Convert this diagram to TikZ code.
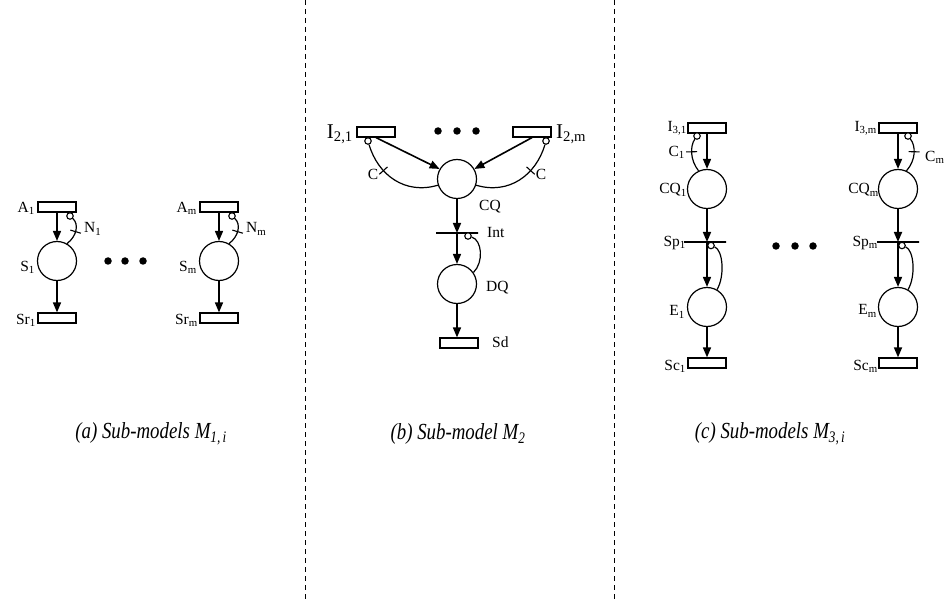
\documentclass[tikz,border=0pt]{standalone}
\usepackage{fontspec}
\setmainfont{Liberation Serif}
\usetikzlibrary{arrows.meta}
\begin{document}
\begin{tikzpicture}[x=1pt,y=-1pt,
 every node/.style={font=\fontsize{15.5}{17}\selectfont},
 place/.style={circle,draw,line width=1.2pt,minimum size=39pt,inner sep=0pt},
 trans/.style={rectangle,draw,line width=1.2pt,minimum width=38pt,minimum height=10pt,inner sep=0pt},
 tbar/.style={rectangle,draw,line width=1.1pt,minimum width=42pt,minimum height=0pt,inner sep=0pt},
 inh/.style={circle,draw,line width=1.1pt,fill=white,minimum size=6.5pt,inner sep=0pt},
 arcarrow/.style={line width=1.6pt,-{Triangle[length=10pt,width=8pt]}},
 inharc/.style={line width=1.2pt},
 tickmark/.style={sloped,draw,line width=1.1pt,minimum width=0pt,minimum height=11pt,inner sep=0pt},
 lbl/.style={inner sep=0pt},
 bigtxt/.style={font=\fontsize{21}{24}\selectfont},
 blackdot/.style={circle,fill,minimum size=7.5pt,inner sep=0pt},
 sepline/.style={line width=0.9pt,dash pattern=on 5pt off 4pt},
 captxt/.style={font=\fontsize{23}{26}\selectfont\itshape},
]
\useasboundingbox (0,0) rectangle (949,601);
% separators
\coordinate (s1t) at (305,0); \coordinate (s1b) at (305,601);
\coordinate (s2t) at (614,0); \coordinate (s2b) at (614,601);
\draw[sepline] (s1t) -- (s1b);
\draw[sepline] (s2t) -- (s2b);

% ---------------- panel (a) ----------------
\node[trans] (A1) at (57,207) {};
\node[place] (S1) at (57,261) {};
\node[trans] (Sr1) at (57,318) {};
\node[inh] (A1o) at (70,216) {};
\draw[arcarrow] (A1) -- (S1);
\draw[arcarrow] (S1) -- (Sr1);
\draw[inharc] (A1o) .. controls (79,224) and (77,236) .. node[tickmark,pos=.55]{} (S1.60);
\node[lbl,anchor=east] (lA1) at (35,208) {A\textsubscript{1}};
\node[lbl,anchor=east] (lS1) at (35,267) {S\textsubscript{1}};
\node[lbl,anchor=east] (lSr1) at (36,320) {Sr\textsubscript{1}};
\node[lbl,anchor=west] (lN1) at (84,229) {N\textsubscript{1}};

\node[blackdot] (da1) at (108,261) {};
\node[blackdot] (da2) at (125,261) {};
\node[blackdot] (da3) at (143,261) {};

\node[trans] (Am) at (219,207) {};
\node[place] (Sm) at (219,261) {};
\node[trans] (Srm) at (219,318) {};
\node[inh] (Amo) at (232,216) {};
\draw[arcarrow] (Am) -- (Sm);
\draw[arcarrow] (Sm) -- (Srm);
\draw[inharc] (Amo) .. controls (241,224) and (239,236) .. node[tickmark,pos=.55]{} (Sm.60);
\node[lbl,anchor=east] (lAm) at (197,208) {A\textsubscript{m}};
\node[lbl,anchor=east] (lSm) at (197,267) {S\textsubscript{m}};
\node[lbl,anchor=east] (lSrm) at (198,320) {Sr\textsubscript{m}};
\node[lbl,anchor=west] (lNm) at (246,229) {N\textsubscript{m}};

\node[captxt] (capa) at (151,434) {\scalebox{0.82}[1]{(a) Sub-models M\textsubscript{1,\,i}}};

% ---------------- panel (b) ----------------
\node[trans] (I21) at (376,132) {};
\node[trans] (I2m) at (532,132) {};
\node[blackdot] (db1) at (438,131) {};
\node[blackdot] (db2) at (457,131) {};
\node[blackdot] (db3) at (476,131) {};
\node[place] (CQ) at (457,179) {};
\node[inh] (I21o) at (368,141) {};
\node[inh] (I2mo) at (546,141) {};
\draw[arcarrow] (I21.south) -- (CQ.150);
\draw[arcarrow] (I2m.south) -- (CQ.30);
\draw[inharc] (I21o) .. controls (378,175) and (405,195) .. node[tickmark,pos=.33]{} (CQ.198);
\draw[inharc] (I2mo) .. controls (536,175) and (509,195) .. node[tickmark,pos=.33]{} (CQ.-18);
\node[lbl,bigtxt,anchor=east] (lI21) at (353,134) {I\textsubscript{2,1}};
\node[lbl,bigtxt,anchor=west] (lI2m) at (556,134) {I\textsubscript{2,m}};
\node[lbl] (lC1b) at (373,174) {C};
\node[lbl] (lC2b) at (541,174) {C};
\node[lbl] (lCQ) at (490,207) {CQ};

\node[tbar] (Int) at (457,233) {};
\node[inh] (Into) at (468,236) {};
\node[place] (DQ) at (457,284) {};
\node[trans] (Sd) at (459,343) {};
\draw[arcarrow] (CQ) -- (Int.center);
\draw[arcarrow] (Int.center) -- (DQ);
\draw[arcarrow] (DQ.south) -- (DQ.south |- Sd.north);
\draw[inharc] (Into) .. controls (482,240) and (484,262) .. (DQ.35);
\node[lbl,anchor=west] (lInt) at (487,233) {Int};
\node[lbl,anchor=west] (lDQ) at (486,288) {DQ};
\node[lbl,anchor=west] (lSd) at (492,342) {Sd};

\node[captxt] (capb) at (458,434) {\scalebox{0.82}[1]{(b) Sub-model M\textsubscript{2}}};

% ---------------- panel (c) ----------------
% column 1
\node[trans] (I31) at (707,128) {};
\node[place] (CQ1) at (707,189) {};
\node[tbar] (Sp1) at (705,242) {};
\node[place] (E1) at (707,307) {};
\node[trans] (Sc1) at (707,363) {};
\node[inh] (I31o) at (697,136) {};
\node[inh] (Sp1o) at (711,245.5) {};
\coordinate (Sp1c) at (707,242);
\draw[arcarrow] (I31) -- (CQ1);
\draw[arcarrow] (CQ1) -- (Sp1c);
\draw[arcarrow] (Sp1c) -- (E1);
\draw[arcarrow] (E1) -- (Sc1);
\draw[inharc] (I31o) .. controls (690,146) and (690,160) .. node[tickmark,pos=.45]{} (CQ1.115);
\draw[inharc] (Sp1o) .. controls (723,250) and (725,276) .. (E1.60);
\node[lbl,anchor=east] (lI31) at (687,128) {I\textsubscript{3,1}};
\node[lbl,anchor=east] (lC1) at (685,152) {C\textsubscript{1}};
\node[lbl,anchor=east] (lCQ1) at (687,190) {CQ\textsubscript{1}};
\node[lbl,anchor=east] (lSp1) at (686,243) {Sp\textsubscript{1}};
\node[lbl,anchor=east] (lE1) at (685,312) {E\textsubscript{1}};
\node[lbl,anchor=east] (lSc1) at (686,366) {Sc\textsubscript{1}};

\node[blackdot] (dc1) at (776,246) {};
\node[blackdot] (dc2) at (795,246) {};
\node[blackdot] (dc3) at (813,246) {};

% column m
\node[trans] (I3m) at (898,128) {};
\node[place] (CQm) at (898,189) {};
\node[tbar] (Spm) at (898,242) {};
\node[place] (Em) at (898,307) {};
\node[trans] (Scm) at (898,363) {};
\node[inh] (I3mo) at (908,136) {};
\node[inh] (Spmo) at (902,245.5) {};
\draw[arcarrow] (I3m) -- (CQm);
\draw[arcarrow] (CQm) -- (Spm.center);
\draw[arcarrow] (Spm.center) -- (Em);
\draw[arcarrow] (Em) -- (Scm);
\draw[inharc] (I3mo) .. controls (916,146) and (916,160) .. node[tickmark,pos=.45]{} (CQm.65);
\draw[inharc] (Spmo) .. controls (914,250) and (916,276) .. (Em.60);
\node[lbl,anchor=east] (lI3m) at (877,128) {I\textsubscript{3,m}};
\node[lbl,anchor=west] (lCm) at (925,157) {C\textsubscript{m}};
\node[lbl,anchor=east] (lCQm) at (879,190) {CQ\textsubscript{m}};
\node[lbl,anchor=east] (lSpm) at (878,243) {Sp\textsubscript{m}};
\node[lbl,anchor=east] (lEm) at (877,311) {E\textsubscript{m}};
\node[lbl,anchor=east] (lScm) at (878,366) {Sc\textsubscript{m}};

\node[captxt] (capc) at (770,434) {\scalebox{0.82}[1]{(c) Sub-models M\textsubscript{3,\,i}}};
\end{tikzpicture}
\end{document}
